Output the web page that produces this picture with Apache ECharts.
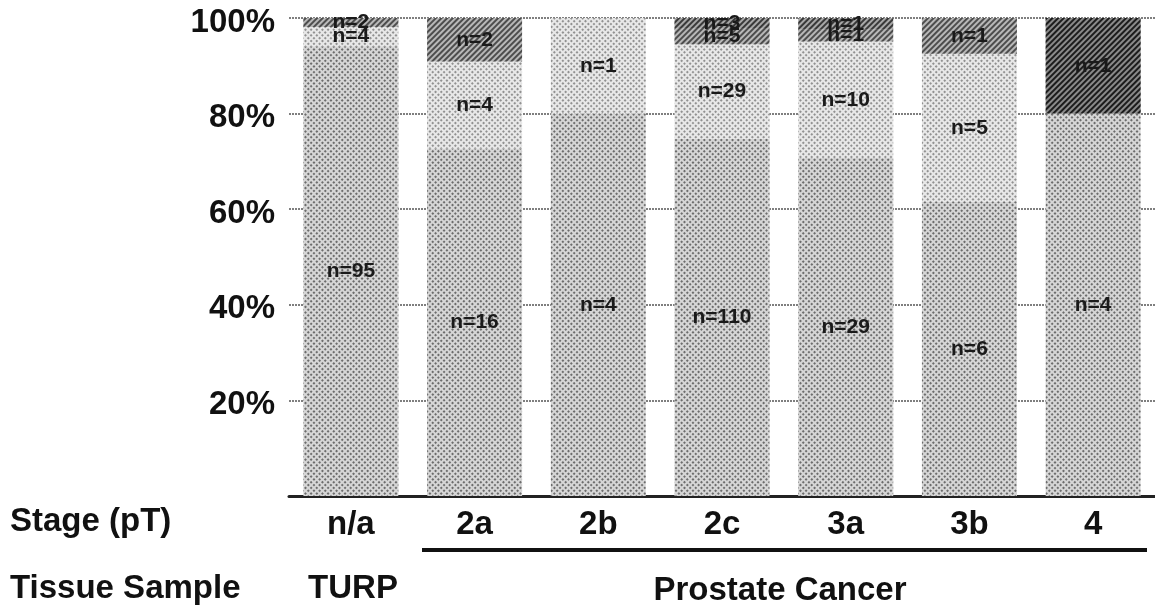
<!DOCTYPE html>
<html>
<head>
<meta charset="utf-8">
<script src="https://cdn.jsdelivr.net/npm/echarts@6/dist/echarts.min.js"></script>
<style>
html,body{margin:0;padding:0;background:#fff;}
#chart{width:1155px;height:610px;}
</style>
</head>
<body>
<div id="chart"></div>
<script>
// Categories (pathological stage)
var categories = ['n/a', '2a', '2b', '2c', '3a', '3b', '4'];
// Segment heights in percent, bottom to top
var seg1 = [94.1, 72.7, 80.0, 74.8, 70.7, 61.5, 80.0];
var seg2 = [4.0, 18.2, 20.0, 19.7, 24.4, 31.0, 0];
var seg3 = [1.9, 9.1, 0, 3.4, 2.45, 7.5, 20.0];
var seg4 = [0, 0, 0, 2.1, 2.45, 0, 0];
// Count labels inside each segment
var lab1 = ['n=95', 'n=16', 'n=4', 'n=110', 'n=29', 'n=6', 'n=4'];
var lab2 = ['n=4', 'n=4', 'n=1', 'n=29', 'n=10', 'n=5', ''];
var lab3 = ['n=2', 'n=2', '', 'n=5', 'n=1', 'n=1', 'n=1'];
var lab4 = ['', '', '', 'n=3', 'n=1', '', ''];
// Y tick labels
var yTicks = [0, 20, 40, 60, 80, 100];

var FONT = "'Liberation Sans', Arial, sans-serif";

var dotDecal = function (c) {
  return { symbol: 'rect', symbolSize: 1, dashArrayX: [2, 2], dashArrayY: [2, 2], rotation: Math.PI / 4, color: c };
};
var hatchDecal = function (c) {
  return { symbol: 'rect', symbolSize: 1, dashArrayX: [1, 0], dashArrayY: [2, 2], rotation: -Math.PI / 4, color: c };
};

function mkSeries(name, vals, labs, color, decal, darkIndex) {
  return {
    name: name,
    type: 'bar',
    stack: 'total',
    barWidth: 95,
    data: vals.map(function (v, i) {
      if (i === darkIndex) {
        return { value: v, itemStyle: { color: '#8a8a8a', decal: hatchDecal('rgba(0,0,0,0.8)') } };
      }
      return v;
    }),
    itemStyle: { color: color, decal: decal },
    label: {
      show: true,
      position: 'inside',
      fontFamily: FONT,
      fontSize: 21,
      fontWeight: 'bold',
      color: '#1a1a1a',
      formatter: function (p) { return labs[p.dataIndex] || ''; }
    }
  };
}

var chart = echarts.init(document.getElementById('chart'));
chart.setOption({
  animation: false,
  backgroundColor: '#ffffff',
  grid: { left: 289, right: -5, top: 18, bottom: 114, containLabel: false },
  xAxis: {
    type: 'category',
    data: categories,
    axisLine: { show: true, lineStyle: { color: '#222', width: 3 } },
    axisTick: { show: false },
    axisLabel: { margin: 12, fontFamily: FONT, fontSize: 33, fontWeight: 'bold', color: '#111' }
  },
  yAxis: {
    type: 'value',
    min: yTicks[0],
    max: yTicks[yTicks.length - 1],
    interval: yTicks[1] - yTicks[0],
    axisLine: { show: false },
    axisTick: { show: false },
    splitLine: { show: true, lineStyle: { color: '#555', width: 1.5, type: [2, 1] } },
    axisLabel: {
      margin: 14,
      fontFamily: FONT, fontSize: 33, fontWeight: 'bold', color: '#111',
      formatter: function (v) { return v === 0 ? '' : '{p|' + v + '%}'; },
      rich: {
        p: { fontFamily: FONT, fontSize: 33, fontWeight: 'bold', color: '#111', padding: [9, 0, 0, 0] }
      }
    }
  },
  series: [
    mkSeries('s1', seg1, lab1, '#d6d6d6', dotDecal('rgba(20,20,20,0.55)'), -1),
    mkSeries('s2', seg2, lab2, '#e8e8e8', dotDecal('rgba(40,40,40,0.45)'), -1),
    mkSeries('s3', seg3, lab3, '#b8b8b8', hatchDecal('rgba(20,20,20,0.65)'), 6),
    mkSeries('s4', seg4, lab4, '#a8a8a8', hatchDecal('rgba(10,10,10,0.7)'), -1)
  ],
  graphic: [
    { type: 'text', left: 10, top: 505, style: { text: 'Stage (pT)', font: "bold 33px 'Liberation Sans', Arial, sans-serif", fill: '#111' } },
    { type: 'text', left: 10, top: 572, style: { text: 'Tissue Sample', font: "bold 33px 'Liberation Sans', Arial, sans-serif", fill: '#111' } },
    { type: 'text', x: 353, y: 589, style: { text: 'TURP', font: "bold 33px 'Liberation Sans', Arial, sans-serif", fill: '#111', align: 'center', verticalAlign: 'middle' } },
    { type: 'text', x: 780, y: 591, style: { text: 'Prostate Cancer', font: "bold 33px 'Liberation Sans', Arial, sans-serif", fill: '#111', align: 'center', verticalAlign: 'middle' } },
    { type: 'line', shape: { x1: 422, y1: 550, x2: 1147, y2: 550 }, style: { stroke: '#111', lineWidth: 4 } }
  ]
});
</script>
</body>
</html>
